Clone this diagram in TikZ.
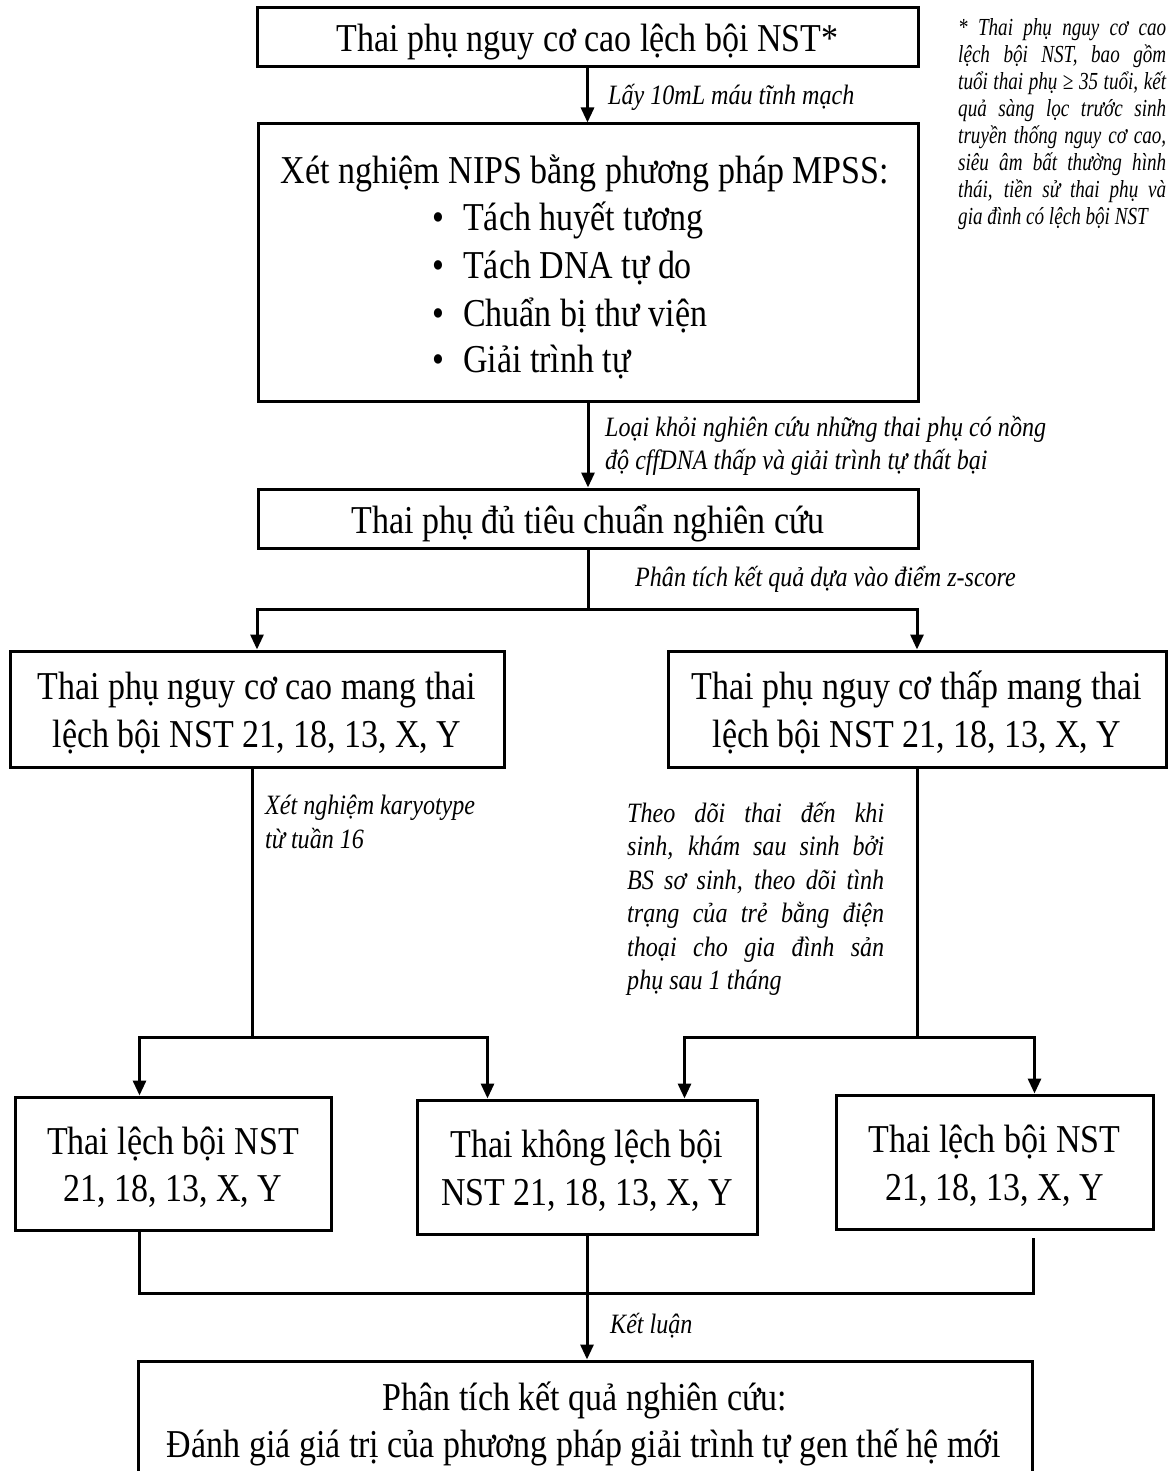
\documentclass[tikz,border=0pt]{standalone}
\usepackage{fontspec}
\setmainfont{Liberation Serif}[FakeStretch=0.86]
\newfontfamily\notefamily{Liberation Serif}[FakeStretch=0.78]
\usetikzlibrary{arrows.meta,calc}
\newcommand\bigfnt{\fontsize{39.5}{47.5}\selectfont}
\newcommand\lblfnt{\fontsize{28}{33.5}\selectfont\itshape}
\newcommand\notefnt{\notefamily\fontsize{24.5}{27}\selectfont\itshape}
\newcommand\boxtext[1]{\raisebox{-5pt}[\height][\depth]{\begin{tabular}{@{}c@{}}#1\end{tabular}}}
\newcommand\jline[2]{\makebox[#1][s]{#2}}
\begin{document}
\begin{tikzpicture}[x=1pt,y=-1pt,
  box/.style={draw,line width=3pt,rectangle,inner sep=0pt,align=center,font=\bigfnt},
  txt/.style={inner sep=0pt,font=\bigfnt,anchor=base west},
  arr/.style={line width=3pt,-{Triangle[length=15pt,width=13pt]}},
  ln/.style={line width=3pt},
  lbl/.style={font=\lblfnt,anchor=north west,align=left,inner sep=0pt},
]
\clip (0,0) rectangle (1172,1471);
\fill[white] (0,0) rectangle (1172,1471);

% boxes
\node[box,minimum width=661pt,minimum height=59pt] (b1) at (587.5,37.5) {\boxtext{Thai phụ nguy cơ cao lệch bội NST*}};
\node[box,minimum width=660pt,minimum height=277pt] (b2) at (588,262.5) {};
\node[inner sep=0pt,font=\bigfnt,anchor=base] (b2t) at (585,184) {Xét nghiệm NIPS bằng phương pháp MPSS:};
\node[txt] (i1) at (432,231) {\makebox[31pt][l]{\textbullet}Tách huyết tương};
\node[txt] (i2) at (432,278) {\makebox[31pt][l]{\textbullet}Tách DNA tự do};
\node[txt] (i3) at (432,326) {\makebox[31pt][l]{\textbullet}Chuẩn bị thư viện};
\node[txt] (i4) at (432,372) {\makebox[31pt][l]{\textbullet}Giải trình tự};
\node[box,minimum width=660pt,minimum height=59pt] (b3) at (588,518.5) {\boxtext{Thai phụ đủ tiêu chuẩn nghiên cứu}};
\node[box,minimum width=494pt,minimum height=116pt] (b4l) at (257,709) {\boxtext{Thai phụ nguy cơ cao mang thai\\lệch bội NST 21, 18, 13, X, Y}};
\node[box,minimum width=498pt,minimum height=116pt] (b4r) at (917,709) {\boxtext{Thai phụ nguy cơ thấp mang thai\\lệch bội NST 21, 18, 13, X, Y}};
\node[box,minimum width=316pt,minimum height=133pt] (b5a) at (173,1163.5) {\boxtext{Thai lệch bội NST\\21, 18, 13, X, Y}};
\node[box,minimum width=340pt,minimum height=134pt] (b5b) at (587,1167) {\boxtext{Thai không lệch bội\\NST 21, 18, 13, X, Y}};
\node[box,minimum width=317pt,minimum height=134pt] (b5c) at (994.5,1162) {\boxtext{Thai lệch bội NST\\21, 18, 13, X, Y}};
\node[box,minimum width=894pt,minimum height=150pt] (b6) at (585,1436) {};
\node[inner sep=0pt,font=\bigfnt,anchor=base] (b6a) at (585,1410) {Phân tích kết quả nghiên cứu:};
\node[inner sep=0pt,font=\bigfnt,anchor=base] (b6b) at (584,1457) {Đánh giá giá trị của phương pháp giải trình tự gen thế hệ mới};

% connectors
\draw[arr] (b1.south) -- (b1.south |- b2.north);
\draw[arr] (b2.south) -- (b2.south |- b3.north);
\draw[arr] (b3.south) -- ++(0,60) -| (b4l.north);
\draw[arr] (b3.south) -- ++(0,60) -| (b4r.north);
\coordinate (jl) at (252,1037);
\coordinate (jr) at (917,1037);
\draw[ln] (jl |- b4l.south) -- (jl);
\draw[arr] (jl) -| ($(b5a.north west)+(126,0)$);
\draw[arr] (jl) -| ($(b5b.north west)+(72,0)$);
\draw[ln] (jr |- b4r.south) -- (jr);
\draw[arr] (jr) -| ($(b5b.north west)+(269,0)$);
\draw[arr] (jr) -| ($(b5c.north west)+(200,0)$);
\coordinate (ja) at ($(b5a.south west)+(126,0)$);
\coordinate (jc) at ($(b5c.south west)+(199,7)$);
\draw[ln] (ja) -- ++(0,62) -| (jc);
\draw[arr] (b5b.south) -- (b5b.south |- b6.north);

% labels
\node[lbl] (l1) at (608,84) {Lấy 10mL máu tĩnh mạch};
\node[lbl] (l2) at (605,416) {Loại khỏi nghiên cứu những thai phụ có nồng\\độ cffDNA thấp và giải trình tự thất bại};
\node[lbl] (l3) at (635,566) {Phân tích kết quả dựa vào điểm z-score};
\node[lbl] (l4) at (265,795) {Xét nghiệm karyotype\\từ tuần 16};
\node[lbl] (l5) at (627,802) {\jline{257pt}{Theo dõi thai đến khi}\\\jline{257pt}{sinh, khám sau sinh bởi}\\\jline{257pt}{BS sơ sinh, theo dõi tình}\\\jline{257pt}{trạng của trẻ bằng điện}\\\jline{257pt}{thoại cho gia đình sản}\\phụ sau 1 tháng};
\node[lbl] (l6) at (610,1313) {Kết luận};
\node[lbl,font=\notefnt] (note) at (958,18) {\jline{208pt}{* Thai phụ nguy cơ cao}\\\jline{208pt}{lệch bội NST, bao gồm}\\\jline{208pt}{tuổi thai phụ ≥ 35 tuổi, kết}\\\jline{208pt}{quả sàng lọc trước sinh}\\\jline{208pt}{truyền thống nguy cơ cao,}\\\jline{208pt}{siêu âm bất thường hình}\\\jline{208pt}{thái, tiền sử thai phụ và}\\gia đình có lệch bội NST};
\end{tikzpicture}
\end{document}
